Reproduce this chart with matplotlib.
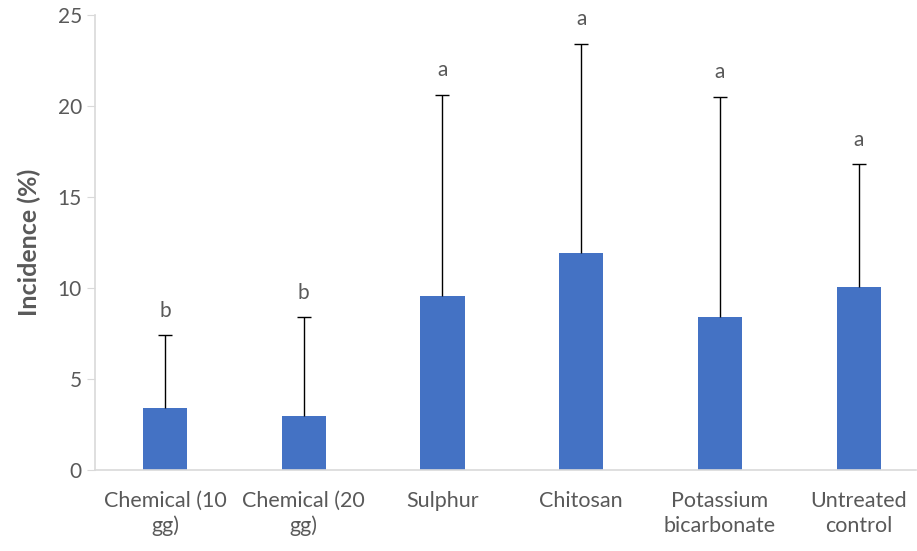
import matplotlib.pyplot as plt
import numpy as np

# data
categories = ['Chemical (10\ngg)', 'Chemical (20\ngg)', 'Sulphur', 'Chitosan',
              'Potassium\nbicarbonate', 'Untreated\ncontrol']
incidence = [3.4, 2.95, 9.55, 11.9, 8.4, 10.05]
err_top = [7.4, 8.4, 20.6, 23.4, 20.5, 16.8]
letters = ['b', 'b', 'a', 'a', 'a', 'a']

errors = [t - v for t, v in zip(err_top, incidence)]

plt.rcParams['font.family'] = ['Lato', 'DejaVu Sans']
grey = '#595959'

fig = plt.figure(figsize=(9.17, 5.51), dpi=100)
ax = fig.add_axes([0.1036, 0.147, 0.895, 0.826])

x = np.arange(len(categories))
ax.bar(x, incidence, width=0.32, color='#4472C4', zorder=2)
eb = ax.errorbar(x, incidence, yerr=[np.zeros(len(x)), errors], fmt='none',
                 ecolor='black', elinewidth=1, capsize=5, capthick=1, zorder=3)
# only the upper cap is shown
for cap in eb[1]:
    if np.allclose(cap.get_ydata(), incidence):
        cap.set_visible(False)

for xi, top, lab in zip(x, err_top, letters):
    ax.text(xi, top + 0.8, lab, ha='center', va='bottom', fontsize=15, color=grey)

ax.set_xlim(-0.504, 5.41)
ax.set_ylim(0, 25)
ax.set_yticks([0, 5, 10, 15, 20, 25])
ax.set_xticks(x)
ax.set_xticklabels(categories, fontsize=15.5, color=grey, linespacing=1.3)
ax.tick_params(axis='y', labelsize=15, labelcolor=grey, color='#D9D9D9', length=6)
ax.tick_params(axis='x', length=0, pad=15)
ax.set_ylabel('Incidence (%)', fontsize=18, fontweight='bold', color=grey, labelpad=12)

for s in ['top', 'right']:
    ax.spines[s].set_visible(False)
for s in ['left', 'bottom']:
    ax.spines[s].set_color('#D9D9D9')
    ax.spines[s].set_linewidth(1.2)

plt.savefig('out.png', dpi=100)
